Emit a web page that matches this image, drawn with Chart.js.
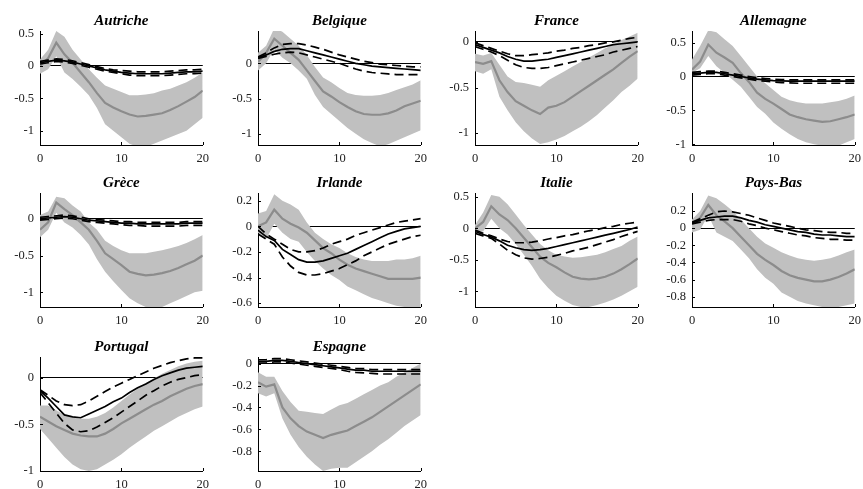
<!DOCTYPE html>
<html lang="fr">
<head>
<meta charset="UTF-8">
<title>Réponses impulsionnelles par pays</title>
<script src="https://cdn.jsdelivr.net/npm/chart.js"></script>
<style>
  body { margin: 0; background: #fff; width: 863px; height: 489px; position: relative; overflow: hidden; }
  canvas { position: absolute; }
</style>
</head>
<body>
<script>
  // horizons (x axis) and tick values
  const horizons = [0, 1, 2, 3, 4, 5, 6, 7, 8, 9, 10, 11, 12, 13, 14, 15, 16, 17, 18, 19, 20];
  const xTicks = [0, 10, 20];

  // Autriche
  const autricheHi  = [0.1, 0.25, 0.54, 0.45, 0.25, 0.1, -0.05, -0.18, -0.3, -0.35, -0.4, -0.45, -0.45, -0.44, -0.42, -0.38, -0.35, -0.3, -0.25, -0.18, -0.1];
  const autricheLo  = [-0.12, -0.05, 0.15, -0.1, -0.2, -0.32, -0.45, -0.65, -0.9, -1.0, -1.1, -1.2, -1.25, -1.25, -1.2, -1.15, -1.1, -1.05, -1.0, -0.9, -0.8];
  const autricheMed = [0.0, 0.12, 0.36, 0.18, 0.05, -0.1, -0.25, -0.42, -0.57, -0.64, -0.7, -0.75, -0.78, -0.77, -0.75, -0.73, -0.68, -0.62, -0.55, -0.48, -0.38];
  const autricheIrf = [0.05, 0.07, 0.09, 0.08, 0.06, 0.03, 0.0, -0.03, -0.06, -0.08, -0.1, -0.11, -0.12, -0.12, -0.12, -0.12, -0.11, -0.1, -0.09, -0.09, -0.08];
  const autricheUp  = [0.07, 0.09, 0.11, 0.1, 0.08, 0.05, 0.02, -0.01, -0.04, -0.06, -0.07, -0.08, -0.09, -0.09, -0.09, -0.09, -0.08, -0.07, -0.06, -0.06, -0.05];
  const autricheDn  = [0.03, 0.05, 0.07, 0.06, 0.04, 0.01, -0.02, -0.05, -0.08, -0.1, -0.12, -0.14, -0.15, -0.15, -0.15, -0.15, -0.14, -0.13, -0.12, -0.12, -0.11];

  // Belgique
  const belgiqueHi  = [0.15, 0.25, 0.5, 0.45, 0.35, 0.25, 0.12, -0.05, -0.2, -0.27, -0.35, -0.42, -0.45, -0.46, -0.46, -0.45, -0.42, -0.38, -0.34, -0.3, -0.24];
  const belgiqueLo  = [-0.1, 0.0, 0.2, 0.08, 0.0, -0.1, -0.22, -0.45, -0.62, -0.72, -0.82, -0.92, -1.0, -1.08, -1.13, -1.18, -1.15, -1.1, -1.05, -1.0, -0.95];
  const belgiqueMed = [0.02, 0.15, 0.35, 0.25, 0.15, 0.05, -0.1, -0.25, -0.4, -0.47, -0.55, -0.62, -0.68, -0.72, -0.73, -0.73, -0.71, -0.67, -0.61, -0.57, -0.53];
  const belgiqueIrf = [0.08, 0.12, 0.17, 0.2, 0.21, 0.21, 0.18, 0.15, 0.12, 0.09, 0.06, 0.03, 0.0, -0.02, -0.04, -0.05, -0.06, -0.07, -0.08, -0.09, -0.1];
  const belgiqueUp  = [0.09, 0.15, 0.22, 0.27, 0.28, 0.28, 0.26, 0.23, 0.2, 0.16, 0.12, 0.09, 0.06, 0.03, 0.01, -0.01, -0.02, -0.03, -0.04, -0.05, -0.05];
  const belgiqueDn  = [0.07, 0.1, 0.13, 0.15, 0.16, 0.15, 0.12, 0.09, 0.06, 0.03, 0.0, -0.04, -0.08, -0.11, -0.13, -0.14, -0.15, -0.16, -0.16, -0.16, -0.16];

  // France
  const franceHi  = [-0.13, -0.15, -0.12, -0.25, -0.38, -0.44, -0.45, -0.47, -0.49, -0.42, -0.37, -0.32, -0.27, -0.22, -0.17, -0.12, -0.07, -0.03, 0.02, 0.06, 0.1];
  const franceLo  = [-0.32, -0.35, -0.3, -0.6, -0.75, -0.88, -0.98, -1.06, -1.12, -1.1, -1.07, -1.03, -0.98, -0.93, -0.87, -0.8, -0.72, -0.64, -0.55, -0.48, -0.4];
  const franceMed = [-0.22, -0.24, -0.21, -0.42, -0.55, -0.65, -0.7, -0.75, -0.79, -0.72, -0.7, -0.66, -0.6, -0.54, -0.48, -0.42, -0.36, -0.3, -0.23, -0.16, -0.1];
  const franceIrf = [-0.03, -0.06, -0.09, -0.12, -0.16, -0.19, -0.21, -0.21, -0.2, -0.19, -0.17, -0.15, -0.13, -0.11, -0.09, -0.07, -0.05, -0.03, -0.02, -0.01, 0.0];
  const franceUp  = [-0.01, -0.04, -0.07, -0.1, -0.13, -0.15, -0.15, -0.14, -0.13, -0.12, -0.1, -0.09, -0.07, -0.06, -0.04, -0.03, -0.01, 0.0, 0.02, 0.04, 0.05];
  const franceDn  = [-0.05, -0.08, -0.11, -0.15, -0.2, -0.25, -0.28, -0.29, -0.29, -0.28, -0.26, -0.24, -0.22, -0.2, -0.18, -0.16, -0.14, -0.11, -0.09, -0.07, -0.05];

  // Allemagne
  const allemagneHi  = [0.25, 0.45, 0.68, 0.65, 0.55, 0.45, 0.3, 0.15, 0.0, -0.1, -0.2, -0.3, -0.35, -0.38, -0.4, -0.4, -0.4, -0.38, -0.36, -0.33, -0.28];
  const allemagneLo  = [0.05, 0.12, 0.3, 0.15, 0.05, -0.05, -0.15, -0.3, -0.45, -0.55, -0.68, -0.77, -0.85, -0.92, -0.97, -1.0, -1.02, -1.02, -1.02, -0.97, -0.92];
  const allemagneMed = [0.1, 0.22, 0.47, 0.35, 0.28, 0.2, 0.05, -0.08, -0.24, -0.33, -0.4, -0.48, -0.56, -0.6, -0.63, -0.65, -0.67, -0.66, -0.63, -0.6, -0.56];
  const allemagneIrf = [0.04, 0.05, 0.06, 0.06, 0.04, 0.02, 0.0, -0.02, -0.04, -0.05, -0.06, -0.065, -0.07, -0.07, -0.07, -0.07, -0.07, -0.07, -0.07, -0.07, -0.07];
  const allemagneUp  = [0.06, 0.07, 0.08, 0.08, 0.06, 0.04, 0.02, 0.0, -0.02, -0.03, -0.04, -0.045, -0.05, -0.05, -0.05, -0.05, -0.05, -0.05, -0.05, -0.05, -0.05];
  const allemagneDn  = [0.02, 0.03, 0.04, 0.04, 0.02, 0.0, -0.02, -0.04, -0.06, -0.07, -0.08, -0.09, -0.095, -0.1, -0.1, -0.1, -0.1, -0.1, -0.1, -0.1, -0.1];

  // Grèce
  const greceHi  = [0.05, 0.1, 0.3, 0.28, 0.18, 0.1, -0.05, -0.15, -0.3, -0.37, -0.43, -0.47, -0.47, -0.47, -0.45, -0.43, -0.4, -0.37, -0.33, -0.28, -0.22];
  const greceLo  = [-0.25, -0.15, 0.08, -0.05, -0.12, -0.22, -0.35, -0.55, -0.72, -0.85, -0.97, -1.08, -1.15, -1.2, -1.22, -1.2, -1.15, -1.1, -1.05, -1.0, -0.98];
  const greceMed = [-0.15, -0.05, 0.22, 0.13, 0.05, -0.05, -0.15, -0.3, -0.47, -0.55, -0.63, -0.72, -0.75, -0.77, -0.76, -0.74, -0.71, -0.67, -0.62, -0.57, -0.5];
  const greceIrf = [0.0, 0.01, 0.02, 0.03, 0.02, 0.0, -0.02, -0.03, -0.04, -0.05, -0.06, -0.06, -0.07, -0.07, -0.07, -0.07, -0.07, -0.07, -0.06, -0.06, -0.06];
  const greceUp  = [0.02, 0.03, 0.04, 0.05, 0.04, 0.02, 0.0, -0.01, -0.02, -0.03, -0.04, -0.04, -0.05, -0.05, -0.05, -0.05, -0.05, -0.05, -0.04, -0.04, -0.04];
  const greceDn  = [-0.02, -0.01, 0.0, 0.01, 0.0, -0.02, -0.04, -0.05, -0.06, -0.07, -0.08, -0.09, -0.09, -0.1, -0.1, -0.1, -0.1, -0.1, -0.09, -0.09, -0.09];

  // Irlande
  const irlandeHi  = [0.1, 0.12, 0.25, 0.2, 0.17, 0.13, 0.03, -0.05, -0.1, -0.14, -0.17, -0.21, -0.24, -0.26, -0.27, -0.27, -0.27, -0.26, -0.26, -0.25, -0.23];
  const irlandeLo  = [-0.05, -0.1, 0.02, -0.05, -0.1, -0.12, -0.2, -0.27, -0.33, -0.38, -0.42, -0.47, -0.5, -0.53, -0.56, -0.58, -0.6, -0.62, -0.63, -0.64, -0.64];
  const irlandeMed = [0.0, 0.03, 0.13, 0.06, 0.02, -0.01, -0.05, -0.11, -0.17, -0.21, -0.26, -0.3, -0.33, -0.35, -0.37, -0.39, -0.41, -0.41, -0.41, -0.41, -0.4];
  const irlandeIrf = [-0.03, -0.08, -0.11, -0.18, -0.22, -0.26, -0.28, -0.28, -0.27, -0.25, -0.23, -0.21, -0.18, -0.15, -0.12, -0.09, -0.06, -0.04, -0.02, -0.01, 0.0];
  const irlandeUp  = [0.0, -0.06, -0.1, -0.14, -0.18, -0.2, -0.2, -0.19, -0.17, -0.14, -0.12, -0.1, -0.07, -0.05, -0.03, -0.01, 0.01, 0.03, 0.04, 0.05, 0.06];
  const irlandeDn  = [-0.06, -0.1, -0.14, -0.24, -0.31, -0.36, -0.38, -0.38, -0.37, -0.35, -0.33, -0.3, -0.27, -0.23, -0.2, -0.17, -0.14, -0.12, -0.1, -0.08, -0.07];

  // Italie
  const italieHi  = [0.05, 0.25, 0.53, 0.5, 0.38, 0.22, 0.05, -0.1, -0.25, -0.35, -0.42, -0.45, -0.47, -0.46, -0.44, -0.42, -0.38, -0.33, -0.28, -0.2, -0.13];
  const italieLo  = [-0.05, -0.05, 0.15, 0.0, -0.1, -0.25, -0.42, -0.6, -0.8, -0.95, -1.07, -1.15, -1.22, -1.25, -1.25, -1.22, -1.18, -1.13, -1.07, -1.0, -0.93];
  const italieMed = [0.0, 0.1, 0.35, 0.22, 0.13, 0.0, -0.15, -0.3, -0.45, -0.55, -0.62, -0.7, -0.77, -0.8, -0.81, -0.8, -0.77, -0.72, -0.65, -0.57, -0.48];
  const italieIrf = [-0.05, -0.1, -0.14, -0.2, -0.27, -0.31, -0.34, -0.35, -0.34, -0.32, -0.29, -0.26, -0.23, -0.2, -0.17, -0.14, -0.11, -0.08, -0.05, -0.02, 0.02];
  const italieUp  = [-0.03, -0.08, -0.12, -0.17, -0.21, -0.23, -0.23, -0.22, -0.2, -0.17, -0.15, -0.12, -0.1, -0.07, -0.04, -0.02, 0.01, 0.03, 0.06, 0.08, 0.1];
  const italieDn  = [-0.08, -0.12, -0.16, -0.25, -0.35, -0.42, -0.47, -0.49, -0.48, -0.46, -0.43, -0.4, -0.36, -0.33, -0.3, -0.26, -0.22, -0.18, -0.13, -0.09, -0.05];

  // Pays-Bas
  const paysBasHi  = [0.1, 0.2, 0.38, 0.35, 0.28, 0.2, 0.1, 0.0, -0.1, -0.18, -0.23, -0.28, -0.32, -0.35, -0.37, -0.38, -0.37, -0.35, -0.32, -0.28, -0.25];
  const paysBasLo  = [-0.05, -0.02, 0.15, -0.05, -0.1, -0.15, -0.25, -0.35, -0.48, -0.58, -0.65, -0.75, -0.8, -0.85, -0.88, -0.9, -0.92, -0.92, -0.92, -0.9, -0.88];
  const paysBasMed = [0.05, 0.12, 0.27, 0.15, 0.08, 0.0, -0.1, -0.2, -0.3, -0.37, -0.43, -0.5, -0.55, -0.58, -0.6, -0.62, -0.62, -0.6, -0.57, -0.53, -0.48];
  const paysBasIrf = [0.06, 0.09, 0.12, 0.13, 0.14, 0.14, 0.12, 0.09, 0.07, 0.04, 0.02, 0.0, -0.02, -0.04, -0.05, -0.07, -0.08, -0.08, -0.09, -0.1, -0.1];
  const paysBasUp  = [0.07, 0.11, 0.15, 0.19, 0.2, 0.19, 0.17, 0.15, 0.12, 0.09, 0.06, 0.04, 0.02, 0.0, -0.02, -0.03, -0.04, -0.05, -0.05, -0.06, -0.06];
  const paysBasDn  = [0.05, 0.07, 0.09, 0.1, 0.1, 0.1, 0.08, 0.05, 0.03, 0.0, -0.02, -0.04, -0.06, -0.08, -0.09, -0.11, -0.12, -0.13, -0.13, -0.14, -0.14];

  // Portugal
  const portugalHi  = [-0.3, -0.3, -0.35, -0.4, -0.43, -0.44, -0.44, -0.42, -0.38, -0.32, -0.25, -0.18, -0.12, -0.06, -0.01, 0.04, 0.08, 0.12, 0.15, 0.17, 0.18];
  const portugalLo  = [-0.55, -0.65, -0.75, -0.85, -0.93, -0.98, -1.0, -0.98, -0.93, -0.88, -0.82, -0.75, -0.69, -0.63, -0.57, -0.52, -0.47, -0.42, -0.38, -0.34, -0.31];
  const portugalMed = [-0.42, -0.47, -0.52, -0.56, -0.6, -0.62, -0.63, -0.63, -0.6, -0.55, -0.49, -0.44, -0.39, -0.34, -0.29, -0.25, -0.2, -0.16, -0.12, -0.09, -0.07];
  const portugalIrf = [-0.14, -0.22, -0.31, -0.4, -0.42, -0.43, -0.39, -0.35, -0.31, -0.26, -0.22, -0.16, -0.11, -0.07, -0.02, 0.02, 0.05, 0.08, 0.1, 0.11, 0.12];
  const portugalUp  = [-0.13, -0.19, -0.25, -0.29, -0.3, -0.29, -0.25, -0.2, -0.15, -0.1, -0.06, -0.02, 0.02, 0.06, 0.1, 0.13, 0.16, 0.18, 0.2, 0.21, 0.21];
  const portugalDn  = [-0.16, -0.27, -0.38, -0.49, -0.56, -0.58, -0.57, -0.53, -0.48, -0.43, -0.37, -0.31, -0.25, -0.19, -0.14, -0.09, -0.05, -0.02, 0.0, 0.02, 0.03];

  // Espagne
  const espagneHi  = [-0.08, -0.12, -0.12, -0.25, -0.35, -0.43, -0.44, -0.45, -0.46, -0.42, -0.38, -0.36, -0.32, -0.28, -0.24, -0.2, -0.17, -0.12, -0.08, -0.04, 0.0];
  const espagneLo  = [-0.27, -0.3, -0.27, -0.5, -0.65, -0.76, -0.85, -0.92, -0.98, -0.96, -0.95, -0.95, -0.9, -0.85, -0.8, -0.74, -0.69, -0.63, -0.57, -0.52, -0.47];
  const espagneMed = [-0.17, -0.21, -0.19, -0.4, -0.5, -0.57, -0.62, -0.65, -0.68, -0.65, -0.63, -0.61, -0.57, -0.53, -0.49, -0.44, -0.39, -0.34, -0.29, -0.24, -0.19];
  const espagneIrf = [0.02, 0.02, 0.03, 0.03, 0.02, 0.01, 0.0, -0.01, -0.02, -0.03, -0.04, -0.05, -0.06, -0.06, -0.07, -0.07, -0.07, -0.07, -0.07, -0.07, -0.07];
  const espagneUp  = [0.035, 0.035, 0.045, 0.045, 0.035, 0.025, 0.015, 0.005, -0.005, -0.015, -0.025, -0.035, -0.045, -0.045, -0.055, -0.055, -0.055, -0.055, -0.055, -0.055, -0.055];
  const espagneDn  = [0.005, 0.005, 0.015, 0.015, 0.005, -0.005, -0.015, -0.025, -0.035, -0.045, -0.055, -0.07, -0.08, -0.085, -0.09, -0.095, -0.095, -0.095, -0.095, -0.095, -0.095];

  // y axis: limits and ticks for each panel
  const names   = ['Autriche', 'Belgique', 'France', 'Allemagne', 'Grèce', 'Irlande', 'Italie', 'Pays-Bas', 'Portugal', 'Espagne'];
  const yMins   = [-1.22, -1.16, -1.13, -1.01, -1.2, -0.63, -1.25, -0.92, -1.0, -0.98];
  const yMaxs   = [0.54, 0.46, 0.12, 0.67, 0.35, 0.26, 0.56, 0.41, 0.22, 0.06];
  const yTicks  = [
    [0.5, 0, -0.5, -1],
    [0, -0.5, -1],
    [0, -0.5, -1],
    [0.5, 0, -0.5, -1],
    [0, -0.5, -1],
    [0.2, 0, -0.2, -0.4, -0.6],
    [0.5, 0, -0.5, -1],
    [0.2, 0, -0.2, -0.4, -0.6, -0.8],
    [0, -0.5, -1],
    [0, -0.2, -0.4, -0.6, -0.8]
  ];

  const series = [
    [autricheHi, autricheLo, autricheMed, autricheIrf, autricheUp, autricheDn],
    [belgiqueHi, belgiqueLo, belgiqueMed, belgiqueIrf, belgiqueUp, belgiqueDn],
    [franceHi, franceLo, franceMed, franceIrf, franceUp, franceDn],
    [allemagneHi, allemagneLo, allemagneMed, allemagneIrf, allemagneUp, allemagneDn],
    [greceHi, greceLo, greceMed, greceIrf, greceUp, greceDn],
    [irlandeHi, irlandeLo, irlandeMed, irlandeIrf, irlandeUp, irlandeDn],
    [italieHi, italieLo, italieMed, italieIrf, italieUp, italieDn],
    [paysBasHi, paysBasLo, paysBasMed, paysBasIrf, paysBasUp, paysBasDn],
    [portugalHi, portugalLo, portugalMed, portugalIrf, portugalUp, portugalDn],
    [espagneHi, espagneLo, espagneMed, espagneIrf, espagneUp, espagneDn]
  ];

  // page layout (plot area of each panel)
  const colLeft = [40, 258, 475, 692];
  const rowTop = [31, 193, 357];
  const plotW = 165, plotH = 114;
  const yAxisW = 38, xAxisH = 24, titleH = 22, padRight = 10;

  const serif = 'Liberation Serif';

  function pts(arr) {
    return arr.map((v, i) => ({ x: horizons[i], y: v }));
  }

  // MATLAB style inward tick marks
  const inwardTicks = {
    id: 'inwardTicks',
    afterDraw(chart) {
      const ctx = chart.ctx, a = chart.chartArea;
      const xs = chart.scales.x, ys = chart.scales.y;
      ctx.save();
      ctx.strokeStyle = '#000';
      ctx.lineWidth = 1;
      ctx.beginPath();
      ys.ticks.forEach(t => {
        const p = Math.round(ys.getPixelForValue(t.value)) + 0.5;
        ctx.moveTo(a.left, p); ctx.lineTo(a.left + 3, p);
      });
      xs.ticks.forEach(t => {
        const p = Math.round(xs.getPixelForValue(t.value)) + 0.5;
        ctx.moveTo(p, a.bottom); ctx.lineTo(p, a.bottom - 3);
      });
      ctx.stroke();
      ctx.restore();
    }
  };

  names.forEach((name, k) => {
    const [hi, lo, med, irf, up, dn] = series[k];
    const cv = document.createElement('canvas');
    const w = yAxisW + plotW + padRight, h = titleH + plotH + xAxisH;
    cv.width = w; cv.height = h;
    cv.style.left = (colLeft[k % 4] - yAxisW) + 'px';
    cv.style.top = (rowTop[Math.floor(k / 4)] - titleH) + 'px';
    document.body.appendChild(cv);

    const line = (data, color, width, dash) => ({
      data: pts(data), borderColor: color, borderWidth: width, borderDash: dash || [],
      pointRadius: 0, fill: false, tension: 0
    });

    new Chart(cv, {
      type: 'line',
      data: {
        datasets: [
          line(irf, '#000', 1.7),
          line(up, '#000', 1.7, [9, 5]),
          line(dn, '#000', 1.7, [9, 5]),
          line(med, '#8c8c8c', 2.2),
          { data: pts(hi), borderWidth: 0, pointRadius: 0, backgroundColor: '#c0c0c0', fill: '+1', tension: 0 },
          { data: pts(lo), borderWidth: 0, pointRadius: 0, fill: false, tension: 0 }
        ]
      },
      options: {
        responsive: false,
        animation: false,
        events: [],
        layout: { padding: { left: 0, right: padRight, top: 0, bottom: 0 } },
        plugins: {
          legend: { display: false },
          tooltip: { enabled: false },
          title: {
            display: true, text: name, color: '#000', fullSize: false,
            font: { family: serif, size: 15, style: 'italic', weight: 'bold' },
            padding: { top: 3, bottom: 1 }
          }
        },
        scales: {
          x: {
            type: 'linear', min: 0, max: 20,
            afterBuildTicks: s => { s.ticks = xTicks.map(v => ({ value: v })); },
            afterFit: s => { s.height = xAxisH; },
            grid: { display: true, drawTicks: false, color: 'rgba(0,0,0,0)' },
            border: { display: true, color: '#000', width: 1 },
            ticks: { color: '#222', font: { family: serif, size: 12.5 }, padding: 6, maxRotation: 0, autoSkip: false }
          },
          y: {
            min: yMins[k], max: yMaxs[k], z: 1,
            afterBuildTicks: s => { s.ticks = yTicks[k].map(v => ({ value: v })); },
            afterFit: s => { s.width = yAxisW; },
            grid: {
              drawTicks: false, lineWidth: 1,
              color: c => (c.tick && c.tick.value === 0) ? '#000' : 'rgba(0,0,0,0)'
            },
            border: { display: true, color: '#000', width: 1 },
            ticks: { color: '#222', font: { family: serif, size: 12.5 }, padding: 6, autoSkip: false, callback: v => String(v) }
          }
        }
      },
      plugins: [inwardTicks]
    });
  });
</script>
</body>
</html>
